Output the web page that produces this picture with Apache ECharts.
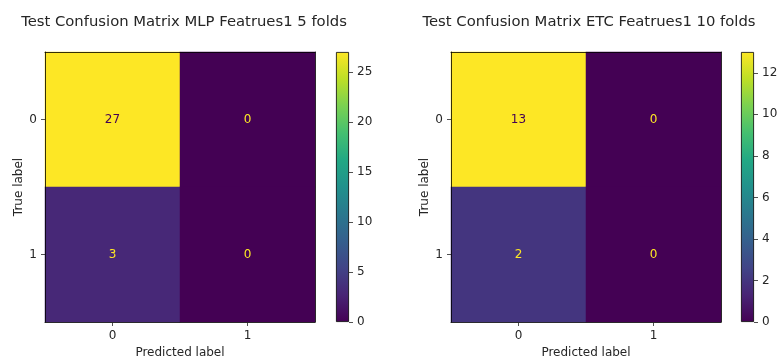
<!DOCTYPE html>
<html>
<head>
<meta charset="utf-8">
<script src="https://cdn.jsdelivr.net/npm/echarts@6/dist/echarts.min.js"></script>
<style>
html,body{margin:0;padding:0;background:#fff;}
#chart{width:777px;height:358px;}
</style>
</head>
<body>
<div id="chart"></div>
<script>
// ---- data ----
const predictedLabels = ['0', '1'];
const trueLabels = ['0', '1'];
const mlpTitle = 'Test Confusion Matrix MLP Featrues1 5 folds';
const etcTitle = 'Test Confusion Matrix ETC Featrues1 10 folds';
const mlpMatrix = [[27, 0], [3, 0]];   // rows: true label, cols: predicted label
const etcMatrix = [[13, 0], [2, 0]];
const mlpMax = 27;
const etcMax = 13;
const mlpTicks = [0, 5, 10, 15, 20, 25];
const etcTicks = [0, 2, 4, 6, 8, 10, 12];

// ---- style ----
const FONT = 'DejaVu Sans';
const TXT = '#262626';
const viridis = ['#440154', '#482475', '#414487', '#355f8d', '#2a788e', '#21918c',
                 '#22a884', '#44bf70', '#7ad151', '#bddf26', '#fde725'];

function cells(matrix, max) {
  const out = [];
  matrix.forEach((row, yi) => row.forEach((v, xi) => {
    out.push({
      value: [xi, yi, v],
      label: { color: v >= max / 2 ? viridis[0] : viridis[viridis.length - 1] }
    });
  }));
  return out;
}

const gradient = {
  type: 'linear', x: 0, y: 1, x2: 0, y2: 0,
  colorStops: viridis.map((c, i) => ({ offset: i / (viridis.length - 1), color: c }))
};

const LW = 0.8;
const grids = [
  { left: 45, top: 52, width: 270, height: 270, outerBoundsMode: 'none', containLabel: false },
  { left: 336, top: 52, width: 13, height: 270, outerBoundsMode: 'none', containLabel: false },
  { left: 451, top: 52, width: 270, height: 270, outerBoundsMode: 'none', containLabel: false },
  { left: 741, top: 52, width: 13, height: 270, outerBoundsMode: 'none', containLabel: false }
];

const xAxes = [];
const yAxes = [];
const series = [];
const visualMaps = [];

function addMatrix(gi, matrix, max) {
  const xi = xAxes.length, yi = yAxes.length;
  xAxes.push({
    type: 'category', gridIndex: gi, data: predictedLabels, position: 'bottom', z: 10,
    name: 'Predicted label', nameLocation: 'middle', nameGap: 24,
    nameTextStyle: { fontFamily: FONT, fontSize: 12, color: TXT },
    axisLine: { show: true, lineStyle: { color: '#000', width: LW } },
    axisTick: { show: true, alignWithLabel: true, length: 4, lineStyle: { color: TXT, width: LW } },
    axisLabel: { fontFamily: FONT, fontSize: 12, color: TXT, margin: 8 },
    splitLine: { show: false }
  });
  xAxes.push({
    type: 'category', gridIndex: gi, data: predictedLabels, position: 'top', z: 10,
    axisLine: { show: true, lineStyle: { color: '#000', width: LW } },
    axisTick: { show: false }, axisLabel: { show: false }, splitLine: { show: false }
  });
  yAxes.push({
    type: 'category', gridIndex: gi, data: trueLabels, inverse: true, position: 'left', z: 10,
    name: 'True label', nameLocation: 'middle', nameGap: 20, nameRotate: 90,
    nameTextStyle: { fontFamily: FONT, fontSize: 12, color: TXT },
    axisLine: { show: true, lineStyle: { color: '#000', width: LW } },
    axisTick: { show: true, alignWithLabel: true, length: 4, lineStyle: { color: TXT, width: LW } },
    axisLabel: { fontFamily: FONT, fontSize: 12, color: TXT, margin: 8 },
    splitLine: { show: false }
  });
  yAxes.push({
    type: 'category', gridIndex: gi, data: trueLabels, inverse: true, position: 'right', z: 10,
    axisLine: { show: true, lineStyle: { color: '#000', width: LW } },
    axisTick: { show: false }, axisLabel: { show: false }, splitLine: { show: false }
  });
  const si = series.length;
  series.push({
    type: 'heatmap', xAxisIndex: xi, yAxisIndex: yi,
    data: cells(matrix, max),
    label: { show: true, fontFamily: FONT, fontSize: 12 },
    emphasis: { disabled: true },
    itemStyle: { borderWidth: 0 }
  });
  visualMaps.push({
    type: 'continuous', show: false, min: 0, max: max, dimension: 2,
    seriesIndex: si, inRange: { color: viridis }
  });
}

function addColorbar(gi, max, ticks) {
  const xi = xAxes.length, yi = yAxes.length;
  xAxes.push({
    type: 'category', gridIndex: gi, data: ['cb'], show: false
  });
  yAxes.push({
    type: 'value', gridIndex: gi, min: 0, max: max, position: 'right',
    axisLine: { show: false },
    axisTick: { show: true, length: 4, customValues: ticks, lineStyle: { color: TXT, width: LW } },
    axisLabel: { fontFamily: FONT, fontSize: 12, color: TXT, margin: 8, customValues: ticks },
    splitLine: { show: false }
  });
  series.push({
    type: 'bar', xAxisIndex: xi, yAxisIndex: yi, data: [max], barWidth: '100%',
    itemStyle: { color: gradient, borderColor: '#000', borderWidth: LW },
    emphasis: { disabled: true }, silent: true
  });
}

addMatrix(0, mlpMatrix, mlpMax);
addColorbar(1, mlpMax, mlpTicks);
addMatrix(2, etcMatrix, etcMax);
addColorbar(3, etcMax, etcTicks);

const chart = echarts.init(document.getElementById('chart'), null, { renderer: 'canvas' });
chart.setOption({
  animation: false,
  backgroundColor: '#fff',
  title: [
    { text: mlpTitle, left: 184, top: 15, textAlign: 'center', padding: 0,
      textStyle: { fontFamily: FONT, fontSize: 14.8, fontWeight: 'normal', color: TXT } },
    { text: etcTitle, left: 589, top: 15, textAlign: 'center', padding: 0,
      textStyle: { fontFamily: FONT, fontSize: 14.8, fontWeight: 'normal', color: TXT } }
  ],
  grid: grids,
  xAxis: xAxes,
  yAxis: yAxes,
  visualMap: visualMaps,
  series: series
});
</script>
</body>
</html>
